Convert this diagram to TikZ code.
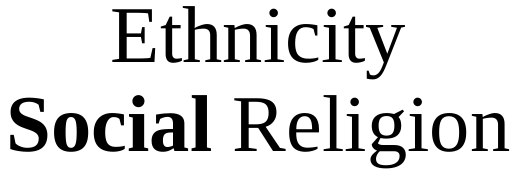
\documentclass[tikz,border=0pt]{standalone}
\usepackage{fontspec}
\setmainfont{Liberation Serif}
\begin{document}
\begin{tikzpicture}
\node[font=\fontsize{40}{44}\selectfont,align=center] (a) at (0,0) {Ethnicity\\\textbf{Social} \rmfamily Religion};
\end{tikzpicture}
\end{document}
